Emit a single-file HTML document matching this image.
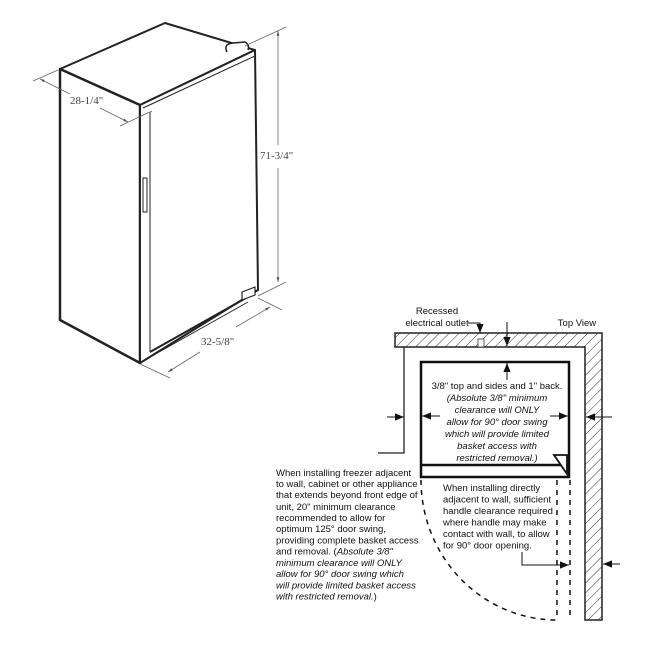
<!DOCTYPE html>
<html><head><meta charset="utf-8"><style>
html,body{margin:0;padding:0;background:#fff;}
svg{display:block;}
text{font-family:"Liberation Sans",Arial,sans-serif;fill:#111;}
.s{font-family:"Liberation Serif",serif;font-size:11px;fill:#444;}
</style></head><body>
<svg width="646" height="650" viewBox="0 0 646 650" xmlns="http://www.w3.org/2000/svg">
<defs>
<pattern id="h" width="7" height="7" patternUnits="userSpaceOnUse" patternTransform="rotate(45)">
<rect width="7" height="7" fill="#fff"/><line x1="0" y1="0" x2="0" y2="7" stroke="#333" stroke-width="1"/></pattern>
<marker id="a" viewBox="0 0 10 10" refX="10" refY="5" markerWidth="9" markerHeight="9" orient="auto-start-reverse"><path d="M0,1 L10,5 L0,9 z" fill="#111"/></marker>
<marker id="g" viewBox="0 0 10 10" refX="10" refY="5" markerWidth="6" markerHeight="6" orient="auto-start-reverse"><path d="M0,2 L10,5 L0,8 z" fill="#555"/></marker>
</defs>

<g stroke="#222" fill="#fff" stroke-linejoin="round">
<polygon points="60,69 165,23 255,50 140,105" stroke-width="2"/>
<polygon points="60,69 140,105 140,363 60,320" stroke-width="2.5"/>
<polygon points="140,105 255,50 258,290 140,363" stroke-width="2"/>
<line x1="143" y1="108" x2="255" y2="56" stroke-width="1"/>
<line x1="150" y1="112" x2="150" y2="352" stroke-width="1"/>
<line x1="150" y1="352" x2="246" y2="298" stroke-width="2"/>
<line x1="152" y1="356" x2="248" y2="302" stroke-width="1"/>
<rect x="143" y="178" width="4" height="34" stroke-width="1"/>
<path d="M227,52 q-4,-8 6,-9 l12,-1 q5,3 3,8" stroke-width="1.5"/>
<path d="M242,300 l0,-8 l13,-5 l0,8 z" stroke-width="1.2"/>
</g>
<g stroke="#666" stroke-width="0.8" fill="none">
<line x1="58" y1="70" x2="33" y2="81"/>
<line x1="40" y1="79" x2="70" y2="94" marker-start="url(#g)"/>
<line x1="100" y1="108" x2="128" y2="122" marker-end="url(#g)"/>
<line x1="120" y1="126" x2="152" y2="111"/>
<line x1="278" y1="31" x2="278" y2="145" marker-start="url(#g)"/>
<line x1="278" y1="168" x2="278" y2="282" marker-end="url(#g)"/>
<line x1="245" y1="46" x2="286" y2="27"/>
<line x1="258" y1="296" x2="286" y2="282"/>
<line x1="140" y1="364" x2="170" y2="378"/>
<line x1="258" y1="298" x2="282" y2="310"/>
<line x1="168" y1="372" x2="200" y2="352" marker-start="url(#g)"/>
<line x1="236" y1="327" x2="270" y2="307" marker-end="url(#g)"/>
</g>
<text class="s" x="70" y="104">28-1/4"</text>
<text class="s" x="260" y="159">71-3/4"</text>
<text class="s" x="201" y="345">32-5/8"</text>

<path d="M395,333 L602,333 L602,620 L585,620 L585,347 L395,347 Z" fill="url(#h)" stroke="#222" stroke-width="1.5"/>
<rect x="478" y="339" width="6" height="8" fill="#fff" stroke="#333" stroke-width="0.8"/>
<polyline points="404,347 404,453 378,453" fill="none" stroke="#222" stroke-width="1.3"/>
<rect x="421" y="362" width="148" height="115" fill="#fff" stroke="#111" stroke-width="2.5"/>
<line x1="421" y1="465" x2="569" y2="465" stroke="#111" stroke-width="2.5"/>
<path d="M554,455 L567,455 L567,474 Z" fill="#fff" stroke="#111" stroke-width="1.8"/>
<g stroke="#111" stroke-width="1" fill="none">
<polyline points="468,323 480,323 480,333" marker-end="url(#a)"/>
<line x1="507" y1="322" x2="507" y2="346" marker-end="url(#a)"/>
<line x1="507" y1="380" x2="507" y2="363" marker-end="url(#a)"/>
<line x1="387" y1="417" x2="404" y2="417" marker-end="url(#a)"/>
<line x1="440" y1="416" x2="422" y2="416" marker-end="url(#a)"/>
<line x1="550" y1="416" x2="568" y2="416" marker-end="url(#a)"/>
<line x1="612" y1="417" x2="586" y2="417" marker-end="url(#a)"/>
<polyline points="522,552 522,565 569,565" marker-end="url(#a)"/>
<line x1="620" y1="564" x2="603" y2="564" marker-end="url(#a)"/>
</g>
<g stroke="#111" stroke-width="1.5" fill="none" stroke-dasharray="5,5">
<line x1="557" y1="480" x2="557" y2="620"/>
<line x1="570" y1="480" x2="570" y2="620"/>
<path d="M421,480 A136,140 0 0 0 557,620"/>
</g>
<g font-size="9.5" text-anchor="middle">
<text x="437" y="314">Recessed</text>
<text x="437" y="326">electrical outlet</text>
<text x="577" y="326">Top View</text>
<text x="497" y="389">3/8" top and sides and 1" back.</text>
<g font-style="italic">
<text x="497" y="401">(Absolute 3/8" minimum</text>
<text x="497" y="413">clearance will ONLY</text>
<text x="497" y="425">allow for 90° door swing</text>
<text x="497" y="437">which will provide limited</text>
<text x="497" y="449">basket access with</text>
<text x="497" y="461">restricted removal.)</text>
</g>
</g>
<g font-size="9.5">
<text x="443" y="491">When installing directly</text>
<text x="443" y="502.5">adjacent to wall, sufficient</text>
<text x="443" y="514">handle clearance required</text>
<text x="443" y="525.5">where handle may make</text>
<text x="443" y="537">contact with wall, to allow</text>
<text x="443" y="548.5">for 90° door opening.</text>
</g>
<g font-size="9.5">
<text x="276" y="476">When installing freezer adjacent</text>
<text x="276" y="487">to wall, cabinet or other appliance</text>
<text x="276" y="498">that extends beyond front edge of</text>
<text x="276" y="510">unit, 20" minimum clearance</text>
<text x="276" y="521">recommended to allow for</text>
<text x="276" y="532">optimum 125° door swing,</text>
<text x="276" y="543.5">providing complete basket access</text>
<text x="276" y="554.5">and removal. (<tspan font-style="italic">Absolute 3/8"</tspan></text>
<g font-style="italic">
<text x="276" y="566">minimum clearance will ONLY</text>
<text x="276" y="577">allow for 90° door swing which</text>
<text x="276" y="588.5">will provide limited basket access</text>
<text x="276" y="599.5">with restricted removal.<tspan font-style="normal">)</tspan></text>
</g>
</g>
</svg>
</body></html>
